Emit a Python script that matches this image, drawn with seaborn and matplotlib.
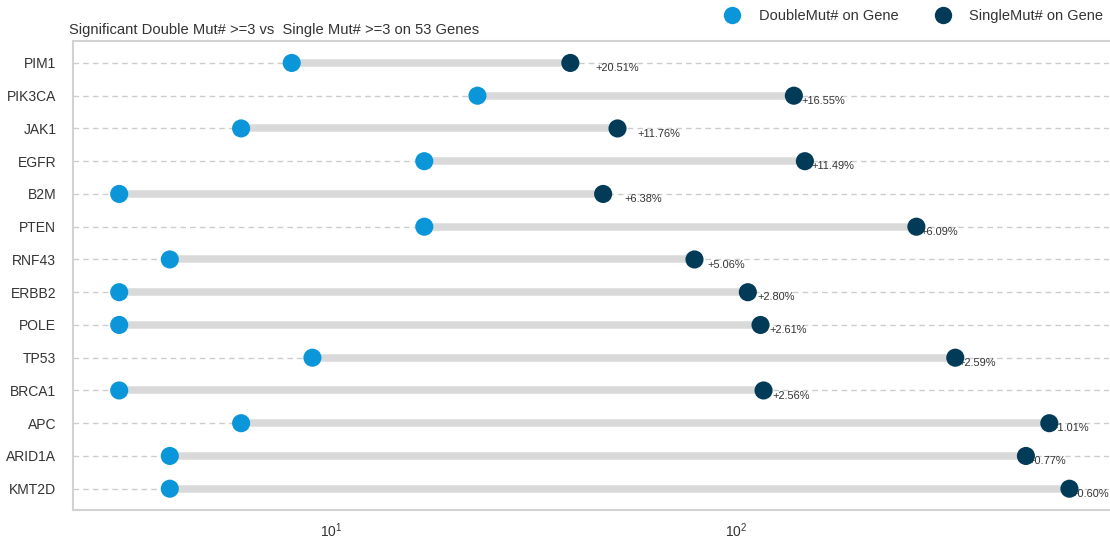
import numpy as np
import pandas as pd
import matplotlib
matplotlib.use("Agg")
import matplotlib.pyplot as plt
import seaborn as sns
from matplotlib.lines import Line2D

# Genes, top to bottom
genes = ["PIM1", "PIK3CA", "JAK1", "EGFR", "B2M", "PTEN", "RNF43",
         "ERBB2", "POLE", "TP53", "BRCA1", "APC", "ARID1A", "KMT2D"]
# Mutation counts per gene
double_mut = [8, 23, 6, 17, 3, 17, 4, 3, 3, 9, 3, 6, 4, 4]
single_mut = [39, 139, 51, 148, 47, 279, 79, 107, 115, 348, 117, 594, 520, 666]

series_names = ["DoubleMut# on Gene", "SingleMut# on Gene"]
palette = {series_names[0]: "#0a96d8", series_names[1]: "#023b58"}

sns.set_theme(style="white")
plt.rcParams["font.family"] = ["Liberation Sans", "DejaVu Sans"]
plt.rcParams["mathtext.fontset"] = "custom"
plt.rcParams["mathtext.rm"] = "Liberation Sans"
plt.rcParams["mathtext.it"] = "Liberation Sans:italic"
plt.rcParams["mathtext.bf"] = "Liberation Sans:bold"

df = pd.DataFrame({
    "gene": genes * 2,
    "count": double_mut + single_mut,
    "series": [series_names[0]] * len(genes) + [series_names[1]] * len(genes),
})

fig = plt.figure(figsize=(11.10, 5.42), dpi=100)
ax = fig.add_axes([73 / 1110, 1 - 510 / 542, (1109 - 73) / 1110, (510 - 41) / 542])

sns.scatterplot(data=df, x="count", y="gene", hue="series", palette=palette,
                s=170, linewidth=0, ax=ax, zorder=4, legend=False)
ax.set_xscale("log")

ypos = np.asarray(ax.yaxis.convert_units(genes), dtype=float)

# dumbbell connectors
ax.hlines(ypos, double_mut, single_mut, color="#d9d9d9", lw=5.4, zorder=2)

# ratio labels next to the single-mutation dot
for y, d, s in zip(ypos, double_mut, single_mut):
    ax.text(s + 6, y + 0.16, f"+{100 * d / s:.2f}%", fontsize=7.9,
            color="#333333", ha="left", va="center", zorder=3)

ax.set_xlim(2.307, 834)
ax.set_ylim(13.65, -0.67)
ax.set_xlabel("")
ax.set_ylabel("")

ax.grid(axis="y", linestyle=(0, (4, 3)), color="#cccccc", lw=1)
ax.grid(axis="x", visible=False)
ax.set_axisbelow(True)

for side in ["top", "left", "bottom"]:
    ax.spines[side].set_color("#d2d2d2")
    ax.spines[side].set_linewidth(1.5)
ax.spines["right"].set_visible(False)

ax.tick_params(axis="y", length=0, pad=12, labelsize=10, labelcolor="#333333")
ax.tick_params(axis="x", which="both", length=0, pad=8, labelsize=10, labelcolor="#333333")

fig.text(69 / 1110, 1 - 30 / 542,
         "Significant Double Mut# >=3 vs  Single Mut# >=3 on 53 Genes",
         ha="left", va="center", fontsize=10.6, color="#333333")

handles = [Line2D([0], [0], marker="o", linestyle="", markersize=12.5,
                  markerfacecolor=palette[n], markeredgewidth=0) for n in series_names]
fig.legend(handles, series_names, loc="center right",
           bbox_to_anchor=(1106 / 1110, 1 - 16 / 542), ncol=2, frameon=False,
           fontsize=10.5, handlelength=1.2, handletextpad=1.2, columnspacing=2.45,
           labelcolor="#333333", borderaxespad=0.0, borderpad=0.2)

fig.savefig("out.png", dpi=100)
